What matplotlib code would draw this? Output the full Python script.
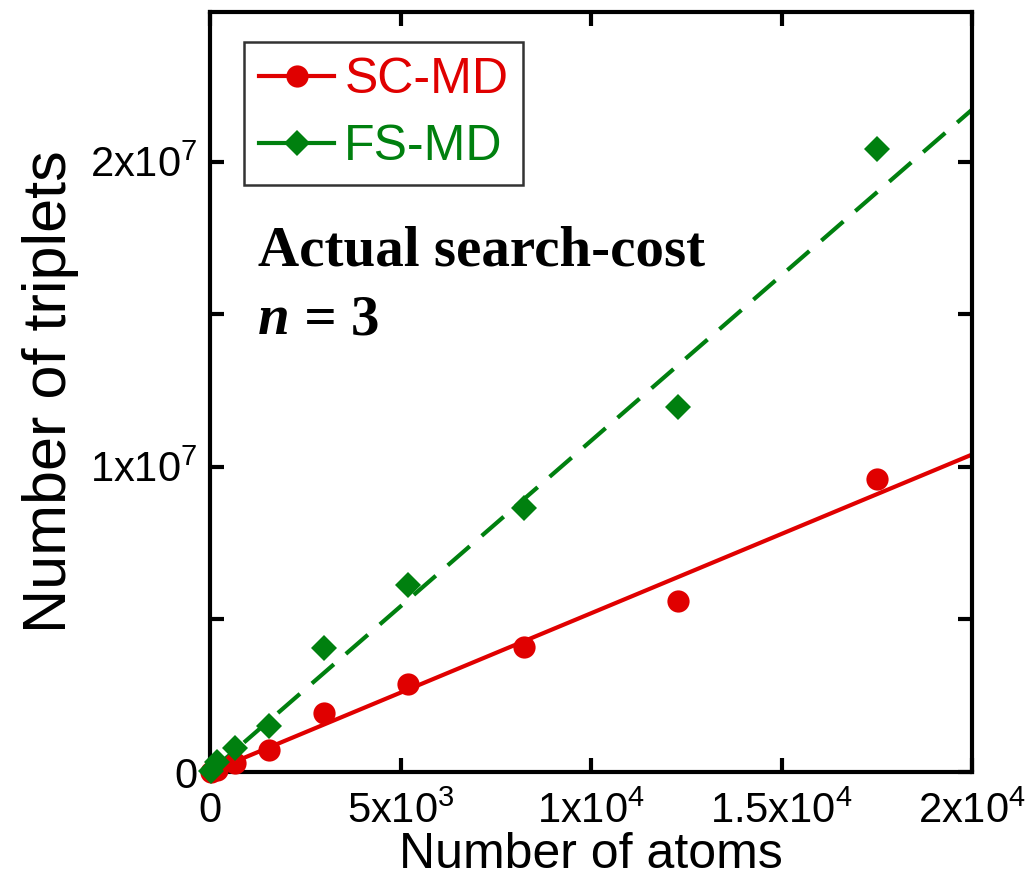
import matplotlib

matplotlib.use("Agg")
import matplotlib.pyplot as plt
from matplotlib.ticker import FixedLocator, FixedFormatter

# number of atoms in each simulation cell
atoms = [24, 192, 648, 1536, 3000, 5184, 8232, 12288, 17496]

# triplets actually searched
sc_md = [0.01e6, 0.08e6, 0.30e6, 0.72e6, 1.93e6, 2.89e6, 4.10e6, 5.60e6, 9.60e6]
fs_md = [0.03e6, 0.33e6, 0.79e6, 1.50e6, 4.07e6, 6.13e6, 8.66e6, 11.97e6, 20.40e6]

fit_x = [0, 2.0e4]
sc_fit = [0, 1.04e7]
fs_fit = [0, 2.17e7]

x_ticks = [0, 5e3, 1e4, 1.5e4, 2e4]
x_tick_labels = ["0", "5x10$^3$", "1x10$^4$", "1.5x10$^4$", "2x10$^4$"]
y_ticks = [0, 5e6, 1e7, 1.5e7, 2e7]
y_tick_labels = ["0", "", "1x10$^7$", "", "2x10$^7$"]

RED = "#E00000"
GREEN = "#00800F"

plt.rcParams.update({
    "font.family": ["Liberation Sans", "DejaVu Sans"],
    "mathtext.fontset": "custom",
    "mathtext.rm": "Liberation Sans",
    "mathtext.it": "Liberation Sans:italic",
    "mathtext.bf": "Liberation Sans:bold",
    "mathtext.default": "rm",
})

fig = plt.figure(figsize=(10.27, 8.84), dpi=100)
ax = fig.add_axes([210 / 1027, 112 / 884, 762 / 1027, 760 / 884])

ax.plot(fit_x, sc_fit, color=RED, lw=3, zorder=2)
ax.plot(fit_x, fs_fit, color=GREEN, lw=3, dashes=(7, 3.8), zorder=2)
ax.plot(atoms, sc_md, "o", color=RED, ms=16, mew=0, clip_on=False, zorder=3)
ax.plot(atoms, fs_md, "D", color=GREEN, ms=13, mew=0, clip_on=False, zorder=4)

# legend proxies: line + marker
h1, = ax.plot([], [], "-o", color=RED, lw=3, ms=16, mew=0, label="SC-MD")
h2, = ax.plot([], [], "-D", color=GREEN, lw=3, ms=13, mew=0, label="FS-MD")
leg = ax.legend(handles=[h1, h2], loc="upper left", bbox_to_anchor=(0.045, 0.96),
                borderaxespad=0, fontsize=36, frameon=True, fancybox=False,
                edgecolor="black", handlelength=1.5, handletextpad=0.2,
                borderpad=0.3, labelspacing=0.42, numpoints=1)
leg.get_frame().set_linewidth(1.8)
for txt, c in zip(leg.get_texts(), [RED, GREEN]):
    txt.set_color(c)

ax.set_xlim(0, 2e4)
ax.set_ylim(0, 2.49e7)
ax.xaxis.set_major_locator(FixedLocator(x_ticks))
ax.xaxis.set_major_formatter(FixedFormatter(x_tick_labels))
ax.yaxis.set_major_locator(FixedLocator(y_ticks))
ax.yaxis.set_major_formatter(FixedFormatter(y_tick_labels))
ax.tick_params(direction="in", length=10, width=3, top=True, right=True,
               labelsize=30)
ax.tick_params(axis="x", pad=14)
ax.tick_params(axis="y", pad=9)
for sp in ax.spines.values():
    sp.set_linewidth(3)

ax.set_xlabel("Number of atoms", fontsize=36, labelpad=0)
ax.set_ylabel("Number of triplets", fontsize=44, labelpad=8)

t1 = ax.text(0.063, 0.667, "Actual search-cost", transform=ax.transAxes,
             family="Liberation Serif", weight="bold", fontsize=41,
             ha="left", va="baseline")
t2 = ax.text(0.063, 0.56, "n", transform=ax.transAxes,
             family="Liberation Serif", weight="bold", style="italic",
             fontsize=41, ha="left", va="bottom")
ax.annotate(" = 3", xy=(1, 0), xycoords=t2, ha="left", va="bottom",
            family="Liberation Serif", weight="bold", fontsize=41)

fig.savefig("out.png", dpi=100, facecolor="white")
